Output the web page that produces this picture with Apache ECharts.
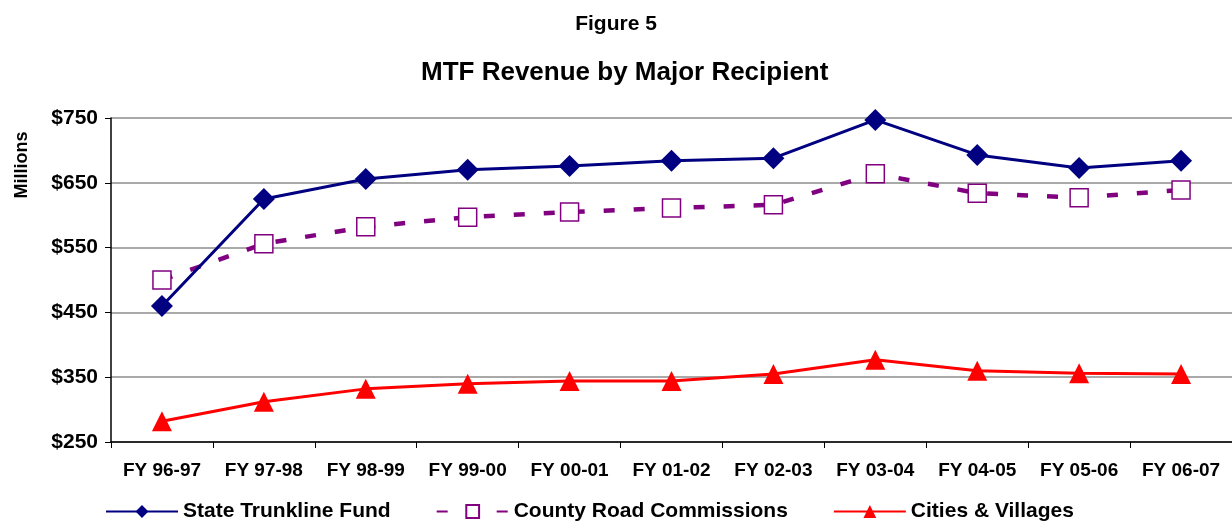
<!DOCTYPE html>
<html>
<head>
<meta charset="utf-8">
<script src="https://cdn.jsdelivr.net/npm/echarts@6/dist/echarts.min.js"></script>
<style>
html, body { margin: 0; padding: 0; background: #fff; }
#chart { width: 1232px; height: 525px; }
</style>
</head>
<body>
<div id="chart"></div>
<script>
const years = ['FY 96-97', 'FY 97-98', 'FY 98-99', 'FY 99-00', 'FY 00-01', 'FY 01-02',
  'FY 02-03', 'FY 03-04', 'FY 04-05', 'FY 05-06', 'FY 06-07'];
const stateTrunkline = [460, 625, 656, 670, 676, 684, 688, 747, 693, 673, 684];
const countyRoad = [500, 556, 582, 597, 605, 611, 616, 664, 634, 627, 639];
const citiesVillages = [282, 312, 332, 340, 344, 344, 355, 377, 360, 356, 355];

const font = 'Liberation Sans, Arial, sans-serif';

const chart = echarts.init(document.getElementById('chart'));
chart.setOption({
  animation: false,
  textStyle: { fontFamily: font },
  title: [
    {
      text: 'Figure 5',
      left: 'center',
      top: 9,
      textStyle: { fontSize: 21, fontWeight: 'bold', color: '#000', fontFamily: font },
    },
    {
      text: 'MTF Revenue by Major Recipient',
      left: 421,
      top: 60,
      padding: 0,
      textStyle: { fontSize: 26, fontWeight: 'bold', color: '#000', fontFamily: font },
    },
  ],
  graphic: [{
    type: 'text',
    x: 22,
    y: 165,
    rotation: Math.PI / 2,
    style: {
      text: 'Millions',
      fontSize: 18,
      fontWeight: 'bold',
      fontFamily: font,
      fill: '#000',
      align: 'center',
      verticalAlign: 'middle',
    },
  }],
  legend: {
    bottom: -2,
    left: 100,
    itemWidth: 72,
    itemHeight: 16,
    itemGap: 45,
    textStyle: { fontSize: 21, fontWeight: 'bold', color: '#000', fontFamily: font },
    data: ['State Trunkline Fund', 'County Road Commissions', 'Cities & Villages'],
  },
  grid: {
    left: 111,
    right: 0,
    top: 118,
    bottom: 83,
    containLabel: false,
  },
  xAxis: {
    type: 'category',
    data: years,
    boundaryGap: true,
    axisLine: { lineStyle: { color: '#000', width: 1.5 } },
    axisTick: { show: true, length: 6, lineStyle: { color: '#000' } },
    axisLabel: {
      interval: 0, hideOverlap: false,
      fontSize: 19, fontWeight: 'bold', color: '#000', margin: 19, fontFamily: font,
    },
  },
  yAxis: {
    type: 'value',
    min: 250,
    max: 750,
    interval: 100,
    axisLine: { show: true, lineStyle: { color: '#000', width: 1.5 } },
    axisTick: { show: true, length: 6, lineStyle: { color: '#000' } },
    axisLabel: {
      fontSize: 21, fontWeight: 'bold', color: '#000', margin: 13, fontFamily: font,
      formatter: '${value}',
    },
    splitLine: { lineStyle: { color: '#8c8c8c', width: 1.5 } },
  },
  series: [
    {
      name: 'State Trunkline Fund',
      type: 'line',
      data: stateTrunkline,
      symbol: 'diamond',
      symbolSize: 22,
      color: '#000080',
      lineStyle: { color: '#000080', width: 3 },
      itemStyle: { color: '#000080' },
      z: 3,
    },
    {
      name: 'County Road Commissions',
      type: 'line',
      data: countyRoad,
      symbol: 'rect',
      symbolSize: 18,
      color: '#800080',
      lineStyle: { color: '#800080', width: 4.5, type: [11, 19] },
      itemStyle: { color: '#fff', borderColor: '#800080', borderWidth: 1.5 },
      z: 2,
    },
    {
      name: 'Cities & Villages',
      type: 'line',
      data: citiesVillages,
      symbol: 'triangle',
      symbolSize: 20,
      color: '#ff0000',
      lineStyle: { color: '#ff0000', width: 3 },
      itemStyle: { color: '#ff0000' },
      z: 2,
    },
  ],
});
</script>
</body>
</html>
